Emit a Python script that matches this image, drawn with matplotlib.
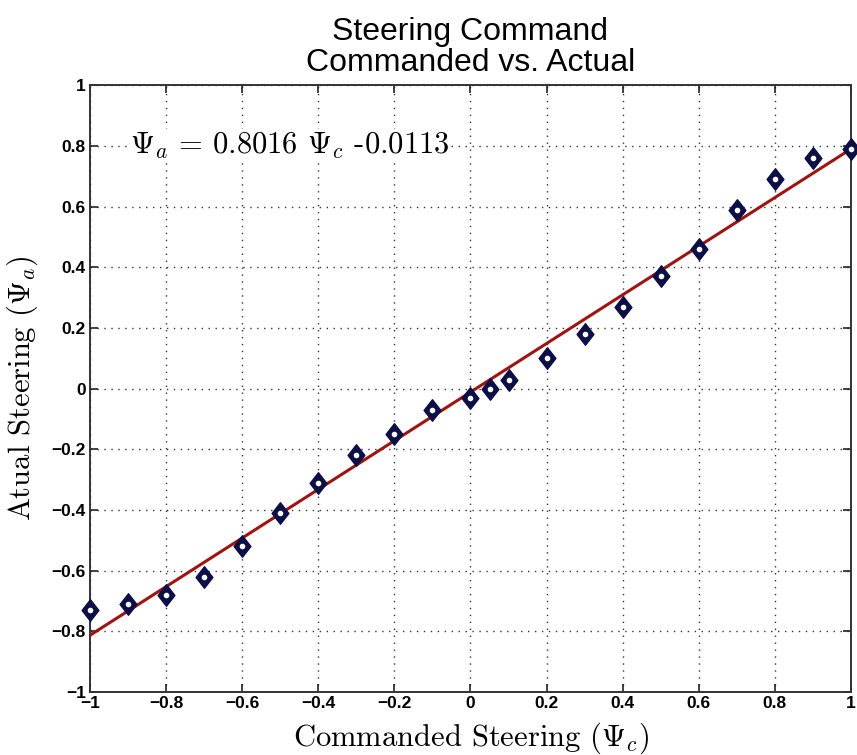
import numpy as np
import matplotlib
matplotlib.use("Agg")
import matplotlib.pyplot as plt
from matplotlib.path import Path

# Commanded vs. measured steering values
commanded = [-1.0, -0.9, -0.8, -0.7, -0.6, -0.5, -0.4, -0.3, -0.2, -0.1,
             0.0, 0.05, 0.1, 0.2, 0.3, 0.4, 0.5, 0.6, 0.7, 0.8, 0.9, 1.0]
actual = [-0.73, -0.71, -0.68, -0.62, -0.52, -0.41, -0.31, -0.22, -0.15, -0.07,
          -0.03, 0.00, 0.03, 0.10, 0.18, 0.27, 0.37, 0.46, 0.59, 0.69, 0.76, 0.79]

# Linear fit coefficients
slope = 0.8016
intercept = -0.0113

ticks = [-1, -0.8, -0.6, -0.4, -0.2, 0, 0.2, 0.4, 0.6, 0.8, 1]
tick_labels = ["\u22121", "\u22120.8", "\u22120.6", "\u22120.4", "\u22120.2", "0",
               "0.2", "0.4", "0.6", "0.8", "1"]

plt.rcParams["mathtext.fontset"] = "cm"
sans = ["Liberation Sans", "DejaVu Sans"]

fig = plt.figure(figsize=(8.57, 7.55), dpi=100)
ax = fig.add_axes([0.105, 0.0834, 0.888, 0.8036])

# fitted line
xf = np.array([-1.0, 1.0])
ax.plot(xf, slope * xf + intercept, color="#9e1410", lw=2.2, zorder=3)

# diamond markers with a small white center
diamond = Path([(0, 1), (0.78, 0), (0, -1), (-0.78, 0), (0, 1)],
               [Path.MOVETO, Path.LINETO, Path.LINETO, Path.LINETO, Path.CLOSEPOLY])
ax.plot(commanded, actual, linestyle="none", marker=diamond, markersize=15.5,
        markerfacecolor="#0c0f45", markeredgecolor="#0c0f45", zorder=4,
        clip_on=False)
ax.plot(commanded, actual, linestyle="none", marker="o", markersize=3,
        markerfacecolor="white", markeredgecolor="white", zorder=5,
        clip_on=False)

ax.set_xlim(-1, 1)
ax.set_ylim(-1, 1)
ax.set_xticks(ticks)
ax.set_yticks(ticks)
ax.set_xticklabels(tick_labels, fontfamily=sans, fontsize=12.5, fontweight="bold")
ax.set_yticklabels(tick_labels, fontfamily=sans, fontsize=12.5, fontweight="bold")
ax.tick_params(direction="in", length=6, width=1.2, top=True, right=True,
               color="#222222", pad=3)
ax.grid(True, linestyle=(0, (1, 4)), color="#333333", linewidth=1.0)
for s in ax.spines.values():
    s.set_linewidth(1.4)
    s.set_color("#333333")

ax.set_title("Steering Command\nCommanded vs. Actual", fontfamily=sans,
             fontsize=23, linespacing=1.08, pad=10)
ax.set_xlabel(r"Commanded Steering ($\Psi_c$)", fontfamily="cmr10",
              fontsize=22, labelpad=7)
ax.set_ylabel(r"Atual Steering ($\Psi_a$)", fontfamily="cmr10",
              fontsize=22, labelpad=8)

ax.text(-0.895, 0.8, r"$\Psi_a$ = 0.8016 $\Psi_c$ -0.0113", fontfamily="cmr10",
        fontsize=22, va="center", ha="left",
        bbox=dict(facecolor="white", edgecolor="none", pad=1))

fig.savefig("out.png", dpi=100)
